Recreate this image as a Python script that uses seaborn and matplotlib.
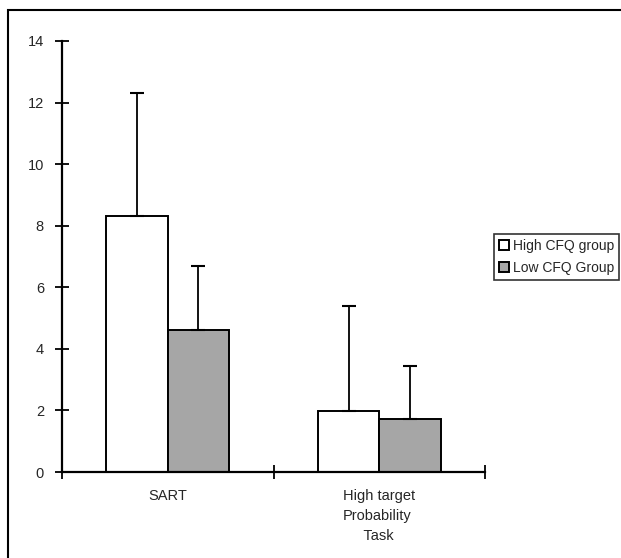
import numpy as np
import pandas as pd
import matplotlib
matplotlib.use("Agg")
import matplotlib.pyplot as plt
from matplotlib.patches import Rectangle
import seaborn as sns

# values
tasks = ["SART", "High target\nProbability\n     Task"]
groups = ["High CFQ group", "Low CFQ Group"]
high_cfq = [8.3, 1.98]
low_cfq = [4.6, 1.72]
high_cfq_sd = [4.0, 3.42]
low_cfq_sd = [2.1, 1.72]

df = pd.DataFrame({
    "task": tasks * 2,
    "group": [groups[0]] * 2 + [groups[1]] * 2,
    "value": high_cfq + low_cfq,
    "sd": high_cfq_sd + low_cfq_sd,
})

sns.set_style("white")
plt.rcParams["font.family"] = ["Liberation Sans", "DejaVu Sans"]

fig = plt.figure(figsize=(6.21, 5.58), dpi=100)
ax = fig.add_axes([62 / 621, 1 - 472 / 558, (485 - 62) / 621, (472 - 41) / 558])

sns.barplot(data=df, x="task", y="value", hue="group", order=tasks, hue_order=groups,
            palette=["white", "#a6a6a6"], edgecolor="black", linewidth=1.4,
            width=0.58, errorbar=None, legend=True, ax=ax)

# upward-only error bars at each bar centre
for cont, g in zip(ax.containers, groups):
    sub = df[df["group"] == g].set_index("task").loc[tasks]
    xs = [p.get_x() + p.get_width() / 2 for p in cont.patches]
    ax.errorbar(xs, sub["value"], yerr=[np.zeros(len(xs)), sub["sd"]], fmt="none",
                ecolor="black", elinewidth=1.3, capsize=5, capthick=1.5, zorder=1)

ax.set_xlim(-0.5, 1.5)
ax.set_ylim(0, 14)
ax.set_yticks(range(0, 15, 2))
ax.set_xticks([0, 1])
ax.set_xticklabels(tasks, fontsize=10.5, va="top")
for lab in ax.get_xticklabels():
    lab.set_multialignment("left")
    lab.set_linespacing(1.55)
ax.set_xticks([-0.5, 0.5, 1.5], minor=True)
ax.tick_params(axis="x", which="major", bottom=True, length=0, pad=12)
ax.tick_params(axis="x", which="minor", bottom=True, length=10, width=1.3, direction="inout", color="black")
ax.tick_params(axis="y", left=True, length=10, width=1.3, direction="inout", color="black",
               labelsize=10.5, pad=8)
ax.set_xlabel("")
ax.set_ylabel("")
for s in ["top", "right"]:
    ax.spines[s].set_visible(False)
for s in ["left", "bottom"]:
    ax.spines[s].set_linewidth(1.6)
    ax.spines[s].set_color("black")

handles, labels = ax.get_legend_handles_labels()
leg = ax.legend(handles, labels, loc="upper left", bbox_to_anchor=(494 / 621, 1 - 234 / 558),
                bbox_transform=fig.transFigure, fontsize=10, frameon=True, fancybox=False,
                edgecolor="black", handlelength=0.7, handleheight=0.7, handletextpad=0.3,
                borderpad=0.35, borderaxespad=0, labelspacing=0.6)
leg.get_frame().set_linewidth(1.2)

# outer frame around the figure
fig.patches.append(Rectangle((8 / 621, -0.1), 1.2, 1 - 10 / 558 + 0.1, transform=fig.transFigure,
                             fill=False, edgecolor="black", linewidth=1.5))

fig.savefig("out.png", dpi=100)
